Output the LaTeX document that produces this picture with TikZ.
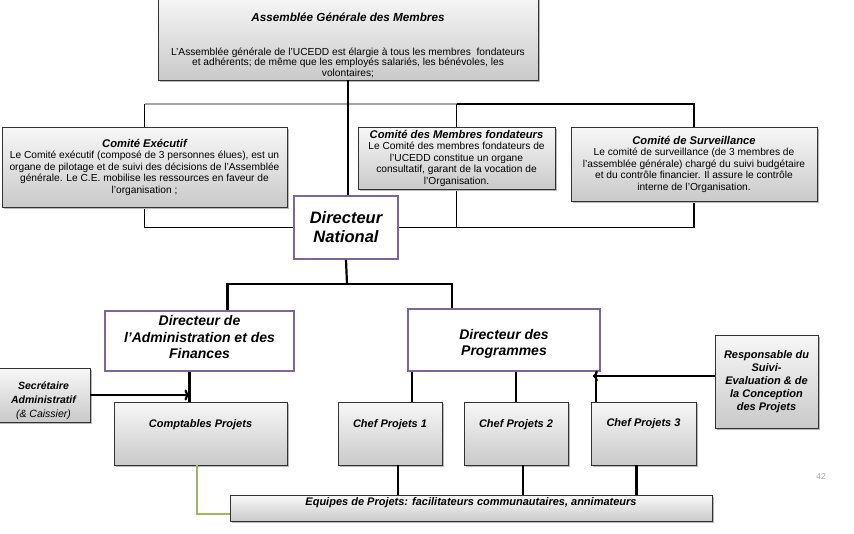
\documentclass[tikz,border=0pt]{standalone}
\usepackage{fontspec}
\setmainfont{Liberation Sans}
\usepackage{tikz}
\usetikzlibrary{positioning}
\usetikzlibrary{shadows}
\usetikzlibrary{backgrounds}
\usetikzlibrary{arrows.meta}
\definecolor{headpurple}{HTML}{8064A2}
\definecolor{linkgreen}{HTML}{9BBB59}
\tikzset{
  graybox/.style={draw=black!80, line width=0.9pt, top color=gray!6, bottom color=gray!42,
    drop shadow={shadow xshift=1.5pt, shadow yshift=-1.5pt, fill=gray!55, opacity=1},
    inner sep=2pt, align=center, font=\fontsize{10.2}{11.5}\selectfont},
  unitbox/.style={graybox, font=\fontsize{11}{13}\selectfont\bfseries\itshape,
    text height=8pt, text depth=21pt},
  headbox/.style={draw=headpurple, line width=1.8pt, fill=white, align=center},
  link/.style={line width=2.2pt, black},
  bus/.style={line width=1.5pt, black},
  arrowlink/.style={link, -{To[length=5pt, width=11pt]}},
}
\newcommand{\ttl}[1]{{\fontsize{11.2}{11.5}\selectfont\bfseries\itshape #1}}
\begin{document}
\begin{tikzpicture}[x=1pt, y=-1pt]
				\useasboundingbox (0,0) rectangle (854,533);
				
				\node[graybox, minimum width=380pt, minimum height=86pt, font=\fontsize{10.2}{10.5}\selectfont] (ag) at (348,37) {\rule{0pt}{25pt}{\fontsize{11.7}{12}\selectfont\bfseries\itshape Assemblée Générale des Membres}\\[23pt]
					L'Assemblée générale de l'UCEDD est élargie à tous les membres\ \ fondateurs\\ et adhérents; de même que les employés salariés, les bénévoles, les\\ volontaires;};
				
				\node[graybox, minimum width=285pt, minimum height=80pt] (ce) at (144.5,167) {\ttl{Comité Exécutif}\\ Le Comité exécutif (composé de 3 personnes élues), est un\\ organe de pilotage et de suivi des décisions de l'Assemblée\\ générale. Le C.E. mobilise les ressources en faveur de\\ l'organisation ;};
				\node[graybox, minimum width=197pt, minimum height=62pt, inner sep=1pt] (fo) at (456.5,158) {\ttl{Comité des Membres fondateurs}\\ Le Comité des membres fondateurs de\\ l'UCEDD constitue un organe\\ consultatif, garant de la vocation de\\ l'Organisation.};
				\node[graybox, minimum width=246pt, minimum height=74pt] (su) at (694,164) {\ttl{Comité de Surveillance}\\ Le comité de surveillance (de 3 membres de\\ l'assemblée générale) chargé du suivi budgétaire\\ et du contrôle financier. Il assure le contrôle\\ interne de l'Organisation.};
				
				\node[headbox, minimum width=104pt, minimum height=63pt, font=\fontsize{16.5}{19}\selectfont\bfseries\itshape] (dn) at (346,227.5) {Directeur\\ National};
				
				\node[headbox, minimum width=189pt, minimum height=60pt, font=\fontsize{14}{16.5}\selectfont\bfseries\itshape] (daf) at (199.5,341) {Directeur de\\ l'Administration et des\\ Finances\rule[-8pt]{0pt}{8pt}};
				\node[headbox, minimum width=192pt, minimum height=62pt, font=\fontsize{14}{16.5}\selectfont\bfseries\itshape] (dp) at (504,340) {\rule{0pt}{18pt}Directeur des\\ Programmes};
				
				\node[graybox, minimum width=93pt, minimum height=54pt, inner sep=0pt, font=\fontsize{10.5}{14}\selectfont\bfseries\itshape] (sec) at (43.5,395) {\rule{0pt}{20pt}Secrétaire\\ Administratif\\ {\mdseries(\& Caissier)}};
				\node[graybox, minimum width=103pt, minimum height=93pt, font=\fontsize{11}{13}\selectfont\bfseries\itshape] (rsp) at (766.5,381.5) {Responsable du\\ Suivi-\\ Evaluation \& de\\ la Conception\\ des Projets};
				
				\node[unitbox, minimum width=173pt, minimum height=63pt] (cpt) at (200.5,433.5) {Comptables Projets};
				\node[unitbox, minimum width=104pt, minimum height=63pt] (c1) at (390,433.5) {Chef Projets 1};
				\node[unitbox, minimum width=104pt, minimum height=63pt] (c2) at (516,433.5) {Chef Projets 2};
				\node[unitbox, minimum width=105pt, minimum height=63pt, text depth=23pt] (c3) at (643.5,433.5) {Chef Projets 3};
				
				\node[unitbox, minimum width=482pt, minimum height=25pt, text depth=14pt] (eq) at (471,508.5) {Equipes de Projets: facilitateurs communautaires, annimateurs};
				
				\node[text=gray!70, font=\fontsize{8.5}{10}\selectfont] (pg) at (821,477) {42};
				
				\coordinate (top) at (349,104);
				\coordinate (split) at (347,284);
				\coordinate (dafdown) at ([xshift=-10pt]daf.south);
				\coordinate (dpleft) at ([xshift=5pt]dp.south west);
				\coordinate (dpmid) at ([xshift=12pt]dp.south);
				\coordinate (dpright) at ([xshift=-5pt]dp.south east);
				
				\begin{scope}[on background layer]
				\draw[bus, gray!70]  (ce |- top) -- (fo |- top);
				\draw[bus]  (fo |- top) -- (su |- top) -- (su |- dn) -- (dn);
				\draw[bus]  (ce |- top) -- (ce |- dn) -- (dn);
				\draw[bus]  (fo |- top) -- (fo |- dn);
				\end{scope}
				
				\draw[link]  (ag.south) -- (ag.south |- dn.north);
				\draw[link]  (dn.south) -- (split);
				\draw[link]  ([xshift=28pt]daf.north) |- (split) -| ([xshift=-52pt]dp.north);
				
				\draw[link]  (dafdown) -- (dafdown |- cpt.north);
				\draw[arrowlink]  (sec.east) -- (sec.east -| dafdown);
				
				\draw[link]  (dpleft) -- (dpleft |- c1.north);
				\draw[link]  (dpmid) -- (dpmid |- c2.north);
				\draw[link]  (dpright) -- (dpright |- c3.north);
				\draw[arrowlink]  ([yshift=5.5pt]rsp.west) -- ([yshift=5.5pt, xshift=-3pt]rsp.west -| dpright);
				
				\draw[link]  ([xshift=8pt]c1.south) -- ([xshift=8pt]c1.south |- eq.north);
				\draw[link]  ([xshift=7pt]c2.south) -- ([xshift=7pt]c2.south |- eq.north);
				\draw[link]  ([xshift=-7pt]c3.south) -- ([xshift=-7pt]c3.south |- eq.north);
				\draw[line width=2.6pt, linkgreen]  ([xshift=-3.5pt]cpt.south) |- ([yshift=-5.5pt]eq.west);
			\end{tikzpicture}
\end{document}
